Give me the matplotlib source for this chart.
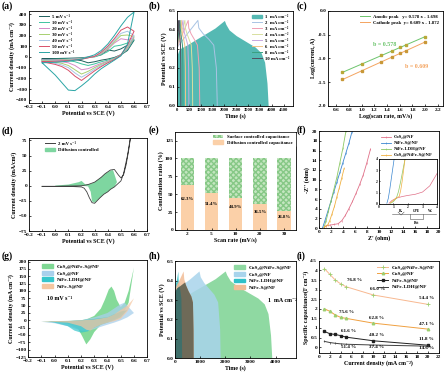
import matplotlib
matplotlib.use('Agg')
import matplotlib.pyplot as plt
from matplotlib.patches import Patch, Polygon
from matplotlib.lines import Line2D

plt.rcParams['font.family'] = ['Liberation Serif', 'DejaVu Serif']
plt.rcParams['font.weight'] = 'bold'
plt.rcParams['axes.labelweight'] = 'bold'
plt.rcParams['axes.linewidth'] = 0.6
plt.rcParams['xtick.direction'] = 'in'
plt.rcParams['ytick.direction'] = 'in'
plt.rcParams['xtick.major.size'] = 1.5
plt.rcParams['ytick.major.size'] = 1.5
plt.rcParams['xtick.major.width'] = 0.5
plt.rcParams['ytick.major.width'] = 0.5
plt.rcParams['xtick.major.pad'] = 1.2
plt.rcParams['ytick.major.pad'] = 1.2
plt.rcParams['xtick.labelsize'] = 3.8
plt.rcParams['ytick.labelsize'] = 3.8
plt.rcParams['axes.labelsize'] = 4.3
plt.rcParams['axes.labelpad'] = 1.0

# ---------------- (a) CV at different scan rates ----------------
cv_rates = ['5 mV s⁻¹', '10 mV s⁻¹', '20 mV s⁻¹', '30 mV s⁻¹', '40 mV s⁻¹', '50 mV s⁻¹', '100 mV s⁻¹']
cv_colors = ['#1e5f5c', '#3fc4a0', '#d58ac8', '#a8d070', '#a8c4e4', '#d8506a', '#2aa5a5']
cv_up_x = [-0.1, 0.0, 0.1, 0.2, 0.3, 0.35, 0.4, 0.45, 0.5, 0.55, 0.6]
cv_dn_x = [0.6, 0.55, 0.5, 0.45, 0.4, 0.35, 0.3, 0.25, 0.2, 0.15, 0.1, 0.05, 0.0, -0.1]
cv_up_y = [
    [-18, -15, -12, -8, 5, 20, 65, 55, 75, 110, 155],
    [-25, -22, -18, -12, 0, 20, 50, 100, 110, 130, 165],
    [-30, -27, -22, -15, 5, 30, 70, 130, 170, 160, 180],
    [-35, -32, -27, -18, 5, 35, 80, 140, 200, 205, 190],
    [-40, -36, -30, -20, 5, 40, 90, 155, 220, 240, 200],
    [-45, -40, -34, -22, 5, 45, 100, 170, 250, 280, 240],
    [-55, -50, -40, -20, 20, 60, 120, 200, 290, 370, 420],
]
cv_dn_y = [
    [155, 60, 20, -5, -20, -30, -45, -55, -35, -25, -22, -20, -20, -18],
    [165, 70, 20, -10, -30, -45, -65, -80, -65, -45, -35, -30, -28, -25],
    [180, 80, 20, -15, -40, -60, -85, -110, -120, -80, -55, -45, -40, -30],
    [190, 90, 20, -20, -45, -70, -100, -135, -160, -120, -80, -60, -50, -35],
    [200, 100, 20, -25, -50, -80, -115, -155, -190, -150, -100, -75, -60, -40],
    [240, 110, 20, -25, -55, -90, -130, -175, -220, -180, -125, -90, -70, -45],
    [420, 120, 10, -30, -70, -110, -160, -220, -270, -315, -310, -240, -170, -55],
]

# ---------------- (b) GCD at different current densities ----------------
gcd_labels = ['1  mA cm⁻²', '2  mA cm⁻²', '3  mA cm⁻²', '4  mA cm⁻²', '5  mA cm⁻²',
              '6  mA cm⁻²', '8  mA cm⁻²', '10 mA cm⁻²']
gcd_colors = ['#55b9b3', '#a9c4e4', '#f0a0b4', '#d8e0a0', '#c8a8e0', '#f2c488', '#3aa080', '#505060']
gcd1_t = [0, 5, 100, 400, 800, 1200, 1600, 2000, 2060, 2200, 2500, 2900, 3300, 3550, 3700, 3800, 3850]
gcd1_v = [0.0, 0.27, 0.30, 0.32, 0.35, 0.38, 0.41, 0.45, 0.43, 0.40, 0.37, 0.34, 0.31, 0.28, 0.23, 0.12, 0.0]
gcd_t = [
    [0, 0, 20, 200, 500, 880, 920, 1100, 1350, 1550, 1660, 1700],
    [0, 0, 10, 100, 270, 470, 495, 590, 730, 860, 935, 960],
    [0, 0, 8, 70, 190, 330, 350, 420, 510, 600, 645, 660],
    [0, 0, 6, 55, 145, 250, 265, 320, 390, 455, 490, 500],
    [0, 0, 5, 40, 105, 180, 192, 230, 280, 325, 352, 360],
    [0, 0, 4, 28, 72, 125, 134, 160, 195, 228, 245, 250],
    [0, 0, 3, 18, 46, 80, 86, 103, 125, 146, 157, 160],
]
gcd_v = [0.0, 0.27, 0.31, 0.34, 0.39, 0.45, 0.41, 0.38, 0.35, 0.32, 0.20, 0.0]

# ---------------- (c) b-value fits ----------------
log_rate = [0.699, 1.0, 1.301, 1.477, 1.602, 1.699, 2.0]
log_anodic = [-1.29, -1.12, -0.93, -0.84, -0.76, -0.72, -0.54]
log_cathodic = [-1.44, -1.26, -1.08, -0.97, -0.88, -0.84, -0.66]
fit_x = [0.699, 2.0]
fit_anodic = [-1.294, -0.542]
fit_cathodic = [-1.446, -0.654]

# ---------------- (d) diffusion contribution at 2 mV/s ----------------
d_up_x = [-0.1, 0.0, 0.1, 0.2, 0.25, 0.3, 0.35, 0.38, 0.42, 0.45, 0.48, 0.5, 0.52, 0.54, 0.56, 0.58]
d_up_y = [-1, -1, -0.5, 0, 2, 6, 14, 20, 26, 27, 18, 13, 18, 35, 60, 90]
d_dn_x = [0.58, 0.55, 0.52, 0.5, 0.47, 0.45, 0.42, 0.4, 0.37, 0.34, 0.3, 0.28, 0.26, 0.24, 0.22, 0.2, 0.1, 0.0, -0.1]
d_dn_y = [90, 50, 20, 8, 2, -2, -6, -10, -14, -20, -29, -28, -20, -10, -4, -2, -1, -1, -1]
d_fill_x = [0.0, 0.1, 0.18, 0.2, 0.23, 0.27, 0.3, 0.35, 0.38, 0.42, 0.44, 0.47,
            0.45, 0.42, 0.4, 0.37, 0.34, 0.3, 0.28, 0.27, 0.25, 0.2, 0.1, 0.0]
d_fill_y = [0.3, 2, 6, 8, 2, 3, 6, 14, 20, 25, 26, 6,
            -2, -6, -10, -14, -20, -28, -26, -10, -1, 0, -0.5, -0.5]

# ---------------- (e) contribution ratio ----------------
scan_rates = ['2', '5', '10', '20', '30']
diffusion_pct = [62.3, 51.4, 44.9, 36.5, 26.8]

# ---------------- (f) Nyquist ----------------
eis_names = ['CoS₂@NF', 'NiFe-S@NF', 'NiFe-LDH@NF', 'CoS₂@NiFe-S@NF']
eis_colors = ['#e07088', '#3a86d0', '#8cc864', '#f0b040']
eis_x = [
    [0.8, 1.2, 1.8, 2.5, 3.2, 3.8, 4.4, 5.0, 5.6, 6.2, 6.8, 7.4, 8.0, 8.6],
    [0.6, 1.0, 1.5, 2.0, 2.5, 3.0, 3.5, 4.0, 4.5, 5.0, 5.5],
    [0.8, 1.2, 1.6, 2.0, 2.5, 3.0, 3.5, 4.0, 4.5],
    [0.9, 1.2, 1.5, 1.8, 2.2, 2.6, 3.0, 3.4, 3.8, 4.2],
]
eis_y = [
    [0.0, 0.45, 0.6, 0.75, 0.9, 1.5, 2.6, 4.0, 5.5, 7.2, 9.0, 11.0, 13.5, 16.3],
    [0.0, 1.5, 3.5, 5.5, 7.5, 9.5, 11.5, 13.5, 15.5, 17.5, 19.8],
    [0.0, 1.5, 3.5, 5.5, 8.0, 10.5, 13.5, 16.5, 20.0],
    [0.2, 0.5, 0.7, 1.5, 3.0, 4.5, 6.5, 8.3, 10.3, 12.3],
]
inset_x = [
    [0.7, 0.9, 1.2, 1.6, 2.0, 2.5, 3.0, 3.5, 4.0],
    [0.55, 0.65, 0.75, 0.85, 0.95, 1.05],
    [0.8, 1.0, 1.2, 1.35, 1.5, 1.65, 1.8],
    [0.8, 1.0, 1.2, 1.4, 1.5, 1.6, 1.7, 1.8],
]
inset_y = [
    [0.05, 0.3, 0.5, 0.65, 0.75, 0.85, 1.05, 1.6, 2.7],
    [0.05, 0.5, 1.3, 2.2, 3.1, 4.0],
    [0.05, 0.2, 0.5, 1.1, 2.0, 3.0, 4.0],
    [0.1, 0.3, 0.55, 0.65, 1.2, 2.0, 3.0, 4.0],
]

# ---------------- (g) CV comparison at 10 mV/s ----------------
g_names = ['CoS₂@NiFe-S@NF', 'CoS₂@NF', 'NiFe-LDH@NF', 'NiFe-S@NF']
g_colors = ['#7fd894', '#a8d0ec', '#36c6cc', '#f5c6a0']
g_x = [
    [-0.1, 0.0, 0.1, 0.2, 0.25, 0.3, 0.35, 0.38, 0.41, 0.43, 0.45, 0.47, 0.5, 0.53, 0.56, 0.6,
     0.56, 0.52, 0.48, 0.44, 0.4, 0.35, 0.3, 0.27, 0.24, 0.21, 0.18, 0.1, 0.0, -0.1],
    [-0.1, 0.1, 0.2, 0.3, 0.4, 0.45, 0.5, 0.53, 0.56, 0.6,
     0.55, 0.5, 0.45, 0.4, 0.35, 0.3, 0.25, 0.2, 0.1, 0.0, -0.1],
    [-0.05, 0.1, 0.2, 0.3, 0.4, 0.45, 0.5, 0.55,
     0.5, 0.45, 0.4, 0.35, 0.3, 0.25, 0.2, 0.15, 0.1, 0.0, -0.05],
    [-0.1, 0.1, 0.2, 0.3, 0.4, 0.45, 0.5, 0.55, 0.6,
     0.55, 0.5, 0.45, 0.4, 0.35, 0.3, 0.27, 0.24, 0.2, 0.1, -0.1],
]
g_y = [
    [-5, -4, -3, 0, 5, 15, 40, 70, 105, 115, 100, 70, 45, 60, 100, 180,
     60, 25, 10, 2, -5, -15, -40, -65, -82, -55, -30, -12, -7, -5],
    [-5, -3, 0, 10, 25, 40, 55, 60, 45, 25,
     10, 0, -8, -15, -22, -30, -35, -35, -20, -10, -5],
    [-3, -2, 0, 5, 10, 20, 30, 35,
     10, 0, -8, -15, -25, -38, -42, -35, -20, -8, -3],
    [-3, -2, 0, 3, 10, 20, 35, 50, 75,
     30, 5, -3, -8, -15, -25, -35, -32, -20, -8, -3],
]

# ---------------- (h) GCD comparison at 1 mA/cm2 ----------------
h_names = ['CoS₂@NiFe-S@NF', 'CoS₂@NF', 'NiFe-LDH@NF', 'NiFe-S@NF']
h_colors = ['#8fd9a2', '#a8d4ec', '#30c0c8', '#f2bc96']
h_t = [
    gcd1_t,
    [0, 5, 100, 300, 600, 960, 1010, 1150, 1350, 1550, 1700, 1780, 1800],
    [0, 3, 30, 70, 120, 130, 160, 200, 240, 262, 270],
    [0, 5, 60, 150, 330, 355, 420, 520, 640, 700, 725, 730],
]
h_v = [
    gcd1_v,
    [0, 0.34, 0.36, 0.38, 0.41, 0.45, 0.42, 0.39, 0.36, 0.33, 0.29, 0.15, 0],
    [0, 0.37, 0.39, 0.41, 0.45, 0.41, 0.38, 0.35, 0.31, 0.15, 0],
    [0, 0.36, 0.38, 0.40, 0.45, 0.41, 0.38, 0.35, 0.32, 0.29, 0.15, 0],
]

# ---------------- (i) rate capability ----------------
i_names = ['CoS₂@NiFe-S@NF', 'CoS₂@NF', 'NiFe-S@NF', 'NiFe-LDH@NF']
cur_density = [1, 2, 3, 4, 5, 10, 20]
spec_cap = [
    [4.1, 3.8, 3.5, 3.3, 3.15, 2.72, 2.23],
    [2.0, 1.87, 1.68, 1.55, 1.5, 1.25, 0.94],
    [0.82, 0.7, 0.66, 0.6, 0.52, 0.33, 0.1],
    [0.3, 0.24, 0.2, 0.17, 0.15, 0.11, 0.05],
]
retention_txt = ['76.8 %', '66.0 %', '54.4 %', '75.6 %', '62.8 %', '47.1 %',
                 '61.6 %', '40.2 %', '11.8 %', '51.4 %', '37.4 %', '14.6 %']
retention_x = [6.5, 10.8, 19.8, 5.0, 10.6, 19.8, 5.4, 10.6, 19.8, 5.4, 10.6, 19.8]
retention_y = [3.38, 2.95, 2.45, 1.72, 1.42, 1.12, 0.72, 0.52, 0.3, -0.1, -0.12, -0.15]

LEG = dict(frameon=False, fontsize=3.4, handlelength=2.2, handletextpad=0.6,
           labelspacing=0.35, borderaxespad=0.4)


def panel_a(fig):
    ax = fig.add_axes([0.065, 0.727, 0.265, 0.244])
    for k in range(len(cv_rates)):
        ax.plot(cv_up_x + cv_dn_x, cv_up_y[k] + cv_dn_y[k], color=cv_colors[k], lw=0.7,
                label=cv_rates[k])
    ax.set_xlim(-0.2, 0.7)
    ax.set_ylim(-430, 430)
    ax.set_xticks([-0.2, -0.1, 0.0, 0.1, 0.2, 0.3, 0.4, 0.5, 0.6, 0.7])
    ax.set_yticks(range(-400, 401, 100))
    ax.set_xlabel('Potential vs SCE (V)')
    ax.set_ylabel('Current density (mA cm⁻²)')
    ax.legend(loc='upper left', bbox_to_anchor=(0.05, 1.0), **LEG)


def panel_b(fig):
    ax = fig.add_axes([0.397, 0.719, 0.260, 0.252])
    ax.fill_between(gcd1_t, gcd1_v, color=gcd_colors[0], lw=0)
    for k in range(len(gcd_t)):
        ax.plot(gcd_t[k], gcd_v, color=gcd_colors[k + 1], lw=0.7)
    ax.set_xlim(0, 4900)
    ax.set_ylim(0, 0.5)
    ax.set_xticks(range(0, 4501, 500))
    ax.tick_params(axis='x', labelsize=3.3)
    ax.set_yticks([0.0, 0.1, 0.2, 0.3, 0.4, 0.5])
    ax.set_yticklabels(['0.0', '0.1', '0.2', '0.3', '0.4', '0.5'])
    ax.set_xlabel('Time (s)')
    ax.set_ylabel('Potential vs SCE (V)')
    handles = [Patch(color=gcd_colors[0])] + [Line2D([], [], color=c, lw=0.7) for c in gcd_colors[1:]]
    ax.legend(handles, gcd_labels, loc='upper right', **LEG)


def panel_c(fig):
    ax = fig.add_axes([0.735, 0.719, 0.258, 0.252])
    ax.plot(fit_x, fit_anodic, color='#6cc46c', lw=0.7, label='Anodic peak   y= 0.578 x - 1.698')
    ax.plot(fit_x, fit_cathodic, color='#f4a460', lw=0.7, label='Cathode peak  y= 0.609 x - 1.872')
    ax.plot(log_rate, log_anodic, 's', color='#b8a838', ms=1.6)
    ax.plot(log_rate, log_cathodic, 's', color='#c89838', ms=1.6)
    ax.text(1.18, -0.74, 'b = 0.578', color='#6cc46c', fontsize=4.3)
    ax.text(1.68, -1.2, 'b = 0.609', color='#f4a460', fontsize=4.3)
    ax.set_xlim(0.47, 2.28)
    ax.set_ylim(-2.0, 0.0)
    ax.set_xticks([0.6, 0.8, 1.0, 1.2, 1.4, 1.6, 1.8, 2.0, 2.2])
    ax.set_yticks([-2.0, -1.5, -1.0, -0.5, 0.0])
    ax.set_yticklabels(['-2.0', '-1.5', '-1.0', '-0.5', '0.0'])
    ax.set_xlabel('Log(scan rate, mV/s)')
    ax.set_ylabel('Log(current, A)')
    ax.legend(loc='upper right', **LEG)


def panel_d(fig):
    ax = fig.add_axes([0.065, 0.387, 0.265, 0.247])
    ax.add_patch(Polygon(list(zip(d_fill_x, d_fill_y)), closed=True, color='#7ed6a0', lw=0))
    ax.plot(d_up_x + d_dn_x, d_up_y + d_dn_y, color='#404040', lw=0.6)
    ax.set_xlim(-0.2, 0.7)
    ax.set_ylim(-75, 79)
    ax.set_xticks([-0.2, -0.1, 0.0, 0.1, 0.2, 0.3, 0.4, 0.5, 0.6, 0.7])
    ax.set_yticks([-75, -50, -25, 0, 25, 50, 75])
    ax.set_xlabel('Potential vs SCE (V)')
    ax.set_ylabel('Current density (mA/cm²)')
    handles = [Line2D([], [], color='#404040', lw=0.7), Patch(color='#7ed6a0')]
    ax.legend(handles, ['2 mV s⁻¹', 'Diffusion controlled'], loc='upper left',
              bbox_to_anchor=(0.1, 1.0), **LEG)


def panel_e(fig):
    ax = fig.add_axes([0.392, 0.390, 0.271, 0.260])
    pos = range(len(scan_rates))
    surface = [100 - v for v in diffusion_pct]
    ax.bar(pos, diffusion_pct, width=0.55, color='#fbd0a8', lw=0)
    ax.bar(pos, surface, bottom=diffusion_pct, width=0.55, facecolor='#c4e6c0',
           edgecolor='#86c886', hatch='xxxxxx', lw=0)
    for p, v in zip(pos, diffusion_pct):
        ax.text(p, v * 0.7, f'{v}%', ha='center', va='center', fontsize=3.4)
    ax.set_xlim(-0.52, 4.48)
    ax.set_ylim(0, 137)
    ax.set_xticks(list(pos))
    ax.set_xticklabels(scan_rates)
    ax.set_yticks([0, 25, 50, 75, 100, 125])
    ax.set_xlabel('Scan rate (mV/s)')
    ax.set_ylabel('Contribution ratio (%)')
    handles = [Patch(facecolor='#c4e6c0', edgecolor='#86c886', hatch='xxxxxx', lw=0),
               Patch(color='#fbd0a8')]
    ax.legend(handles, ['Surface controlled capacitance', 'Diffusion controlled capacitance'],
              loc='upper right', frameon=True, fancybox=False, edgecolor='white',
              fontsize=3.4, handlelength=2.2, labelspacing=0.25, borderaxespad=0.2)


def panel_f(fig):
    ax = fig.add_axes([0.715, 0.395, 0.269, 0.257])
    for k in range(len(eis_names)):
        ax.plot(eis_x[k], eis_y[k], color=eis_colors[k], lw=0.6, marker='|', ms=1.4,
                mew=0.4, label=eis_names[k])
    ax.set_xlim(0, 20)
    ax.set_ylim(0, 20)
    ax.set_xticks(range(0, 21, 2))
    ax.set_yticks(range(0, 21, 2))
    ax.set_xlabel("Z' (ohm)")
    ax.set_ylabel("-Z'' (ohm)")
    ax.legend(loc='upper right', bbox_to_anchor=(0.98, 1.0), **LEG)
    ins = ax.inset_axes([10.0, 5.0, 9.7, 9.3], transform=ax.transData)
    for k in range(len(eis_names)):
        ins.plot(inset_x[k], inset_y[k], color=eis_colors[k], lw=0.5)
    ins.set_xlim(0, 4)
    ins.set_ylim(0, 4)
    ins.set_xticks([0, 1, 2, 3, 4])
    ins.set_yticks([0, 1, 2, 3, 4])
    ins.tick_params(labelsize=2.6, length=1, pad=0.8)
    # equivalent circuit sketch
    cy = 3.0
    ax.plot([12.2, 19.6], [cy, cy], color='#555555', lw=0.4)
    ax.plot([15.2, 15.2, 17.4, 17.4], [cy, 1.9, 1.9, cy], color='#555555', lw=0.4)
    ax.plot([13.2, 13.7, 14.2], [cy + 0.3, cy - 0.3, cy + 0.3], color='#555555', lw=0.4)
    ax.text(13.6, cy + 0.4, 'Rₛ', fontsize=2.6, ha='center')
    ax.text(16.3, cy + 0.4, 'CPE', fontsize=2.6, ha='center')
    ax.text(18.5, cy + 0.4, 'Wₒ', fontsize=2.6, ha='center')
    ax.text(16.3, 0.8, 'Rct', fontsize=2.6, ha='center')


def panel_g(fig):
    ax = fig.add_axes([0.063, 0.053, 0.267, 0.257])
    alphas = [0.95, 0.75, 0.7, 0.7]
    for k in range(len(g_names)):
        ax.add_patch(Polygon(list(zip(g_x[k], g_y[k])), closed=True, color=g_colors[k],
                             alpha=alphas[k], lw=0))
    ax.text(-0.06, 68, '10 mV s⁻¹', fontsize=4.3)
    ax.set_xlim(-0.2, 0.7)
    ax.set_ylim(-125, 205)
    ax.set_xticks([-0.2, -0.1, 0.0, 0.1, 0.2, 0.3, 0.4, 0.5, 0.6, 0.7])
    ax.set_yticks(range(-125, 201, 25))
    ax.set_xlabel('Potential vs SCE (V)')
    ax.set_ylabel('Current density (mA cm⁻²)')
    handles = [Patch(color=c) for c in g_colors]
    ax.legend(handles, g_names, loc='upper left', bbox_to_anchor=(0.08, 1.0),
              **dict(LEG, fontsize=3.8))


def panel_h(fig):
    ax = fig.add_axes([0.392, 0.050, 0.271, 0.257])
    polys = []
    alphas = [1.0, 0.85, 0.85, 0.85]
    for k in range(len(h_names)):
        polys.append(ax.fill_between(h_t[k], h_v[k], color=h_colors[k], alpha=alphas[k], lw=0))
    # darker tone where the small curves overlap the CoS2@NF one
    blue_path = polys[1].get_paths()[0]
    dark_p = ax.fill_between(h_t[3], h_v[3], color='#6e6a58', lw=0)
    dark_p.set_clip_path(blue_path, ax.transData)
    dark_t = ax.fill_between(h_t[2], h_v[2], color='#3f6f6a', lw=0)
    dark_t.set_clip_path(blue_path, ax.transData)
    ax.text(3700, 0.29, '1  mA cm⁻²', fontsize=4.3)
    ax.set_xlim(0, 4800)
    ax.set_ylim(0, 0.5)
    ax.set_xticks([0, 1000, 2000, 3000, 4000])
    ax.set_yticks([0.0, 0.1, 0.2, 0.3, 0.4, 0.5])
    ax.set_yticklabels(['0.0', '0.1', '0.2', '0.3', '0.4', '0.5'])
    ax.set_xlabel('Time (s)')
    ax.set_ylabel('Potential vs SCE (V)')
    handles = [Patch(color=c) for c in h_colors]
    ax.legend(handles, h_names, loc='upper right', **dict(LEG, fontsize=3.8))


def panel_i(fig):
    ax = fig.add_axes([0.715, 0.064, 0.269, 0.244])
    styles = [dict(color='#f8b890', marker='+', mec='#9ccf70', ms=3, mew=0.6),
              dict(color='#f0a040', marker='^', mec='#9ccf70', mfc='#9ccf70', ms=1.8),
              dict(color='#202020', marker='s', ms=1.8),
              dict(color='#404040', marker='|', ms=2, mew=0.5)]
    for k in range(len(i_names)):
        ax.plot(cur_density, spec_cap[k], lw=0.7, label=i_names[k], **styles[k])
    for t, x, y in zip(retention_txt, retention_x, retention_y):
        ax.text(x, y, t, fontsize=3.6, ha='center', va='bottom')
    ax.set_xlim(0, 22)
    ax.set_ylim(-0.3, 4.5)
    ax.set_xticks(range(0, 23, 2))
    ax.set_yticks([0, 0.5, 1, 1.5, 2, 2.5, 3, 3.5, 4, 4.5])
    ax.set_yticklabels(['0', '0.5', '1', '1.5', '2', '2.5', '3', '3.5', '4', '4.5'])
    ax.set_xlabel('Current density (mA cm⁻²)')
    ax.set_ylabel('Specific capacitance(F cm⁻²)')
    ax.legend(loc='upper right', **dict(LEG, fontsize=3.8))


def run():
    fig = plt.figure(figsize=(4.46, 3.77), dpi=100)
    panel_a(fig)
    panel_b(fig)
    panel_c(fig)
    panel_d(fig)
    panel_e(fig)
    panel_f(fig)
    panel_g(fig)
    panel_h(fig)
    panel_i(fig)
    letters = [('(a)', 0.004, 0.997), ('(b)', 0.333, 0.997), ('(c)', 0.666, 0.997),
               ('(d)', 0.004, 0.665), ('(e)', 0.333, 0.668), ('(f)', 0.666, 0.668),
               ('(g)', 0.004, 0.333), ('(h)', 0.333, 0.333), ('(i)', 0.666, 0.333)]
    for s, x, y in letters:
        fig.text(x, y, s, fontsize=7, fontweight='bold', va='top', ha='left')
    fig.savefig('out.png', dpi=100)
    plt.close(fig)


if __name__ == "__main__":
    run()
